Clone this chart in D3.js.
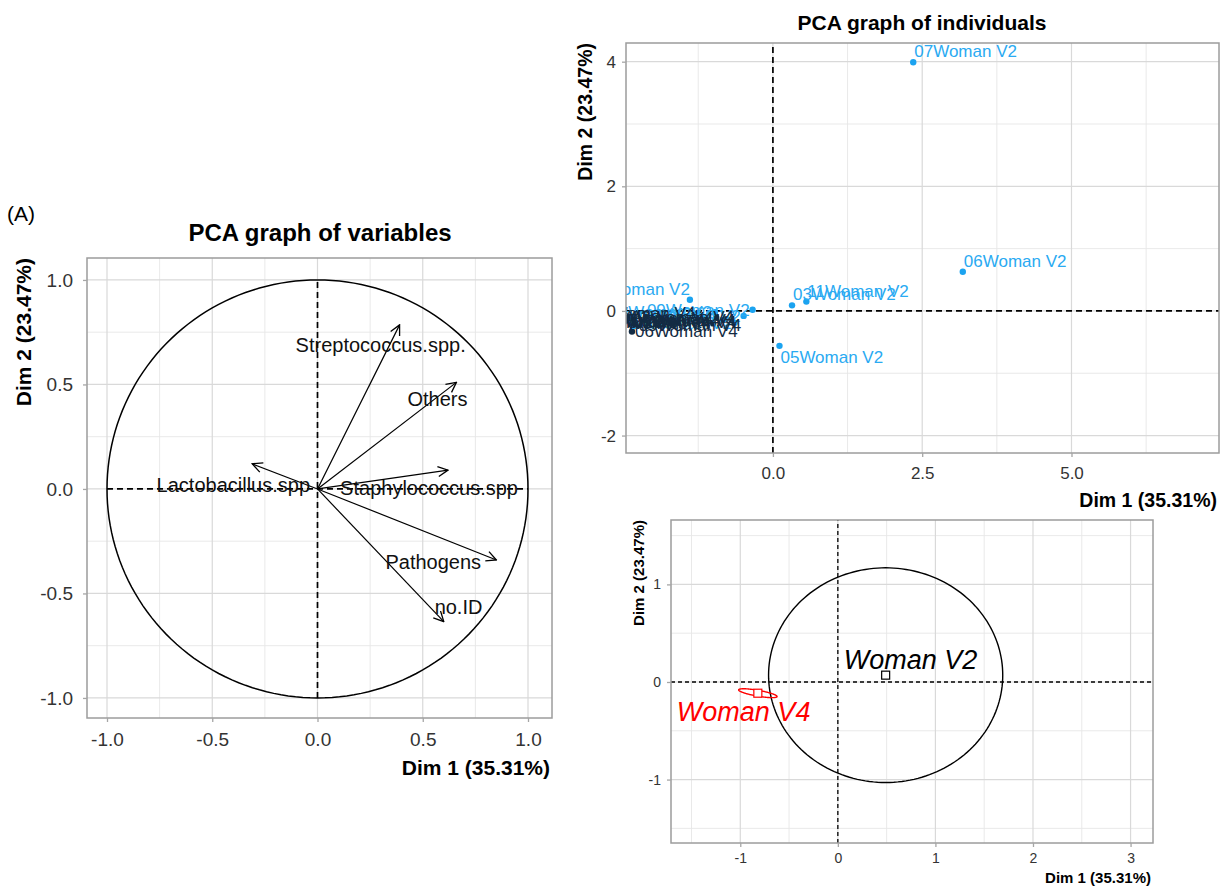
<!DOCTYPE html>
<html>
<head>
<meta charset="utf-8">
<script src="https://cdn.jsdelivr.net/npm/d3@7"></script>
<style>
	body { margin: 0; background: #fff; }
	text { font-family: "Liberation Sans", Arial, sans-serif; }
</style>
</head>
<body>
<div id="chart"></div>
<script>

//=================== DATA ====================================

// (A) PCA graph of variables: arrow tips on Dim 1 / Dim 2
var varNames = ["Streptococcus.spp.", "Others", "Staphylococcus.spp", "Lactobacillus.spp", "Pathogens", "no.ID"];
var varDim1  = [0.39, 0.66, 0.62, -0.31, 0.85, 0.60];
var varDim2  = [0.785, 0.51, 0.09, 0.12, -0.34, -0.635];
// label centres (data units, as placed in the original)
var varLabelDim1 = [0.30, 0.57, 0.53, -0.40, 0.55, 0.67];
var varLabelDim2 = [0.69, 0.43, 0.005, 0.02, -0.35, -0.565];
var varTicks = [-1.0, -0.5, 0.0, 0.5, 1.0];

// PCA graph of individuals
var indNames = ["07Woman V2", "06Woman V2", "03Woman V2", "11Woman V2", "05Woman V2", "01Woman V2",
	"02Woman V2", "04Woman V2", "08Woman V2", "09Woman V2", "10Woman V2",
	"01Woman V4", "02Woman V4", "03Woman V4", "04Woman V4", "05Woman V4", "06Woman V4",
	"07Woman V4", "08Woman V4", "09Woman V4", "10Woman V4", "11Woman V4"];
var indDim1 = [2.35, 3.18, 0.32, 0.56, 0.11, -1.39,
	-0.97, -0.64, -0.49, -0.34, -1.31,
	-2.40, -2.38, -2.42, -1.15, -0.82, -2.36,
	-1.00, -1.25, -2.30, -0.95, -1.60];
var indDim2 = [3.99, 0.63, 0.09, 0.15, -0.56, 0.18,
	-0.02, -0.19, -0.08, 0.02, -0.05,
	-0.14, -0.18, -0.10, -0.16, -0.14, -0.33,
	-0.20, -0.03, -0.22, -0.11, -0.18];
var indVisit = ["V2", "V2", "V2", "V2", "V2", "V2", "V2", "V2", "V2", "V2", "V2",
	"V4", "V4", "V4", "V4", "V4", "V4", "V4", "V4", "V4", "V4", "V4"];
// which side of the point the label went to
var indLabelSide = ["ne", "ne", "ne", "ne", "se", "nw", "w", "w", "w", "w", "w",
	"e", "e", "e", "w", "w", "e", "w", "w", "e", "w", "w"];
var indTicksX = [0, 2.5, 5];
var indTicksY = [-2, 0, 2, 4];

// group means with confidence ellipses
var grpNames = ["Woman V2", "Woman V4"];
var grpDim1 = [0.49, -0.82];
var grpDim2 = [0.07, -0.115];
var grpEllRx = [1.20, 0.20];
var grpEllRy = [1.10, 0.03];
var grpEllAngle = [0, -10];
var grpLabelDim1 = [0.06, -1.65];
var grpLabelDim2 = [0.13, -0.40];
var grpTicksX = [-1, 0, 1, 2, 3];
var grpTicksY = [-1, 0, 1];

var colV2 = "#1ba3f0", colV4 = "#132b43";

//=================== SETUP ====================================

var svg = d3.select("#chart").append("svg")
	.attr("width", 1221)
	.attr("height", 886);

var defs = svg.append("defs");
defs.append("marker")
	.attr("id", "arrowHead")
	.attr("viewBox", "0 0 12 12")
	.attr("refX", 11).attr("refY", 6)
	.attr("markerWidth", 12).attr("markerHeight", 12)
	.attr("markerUnits", "userSpaceOnUse")
	.attr("orient", "auto")
	.append("path")
	.attr("d", "M1,1 L11,6 L1,11")
	.attr("fill", "none")
	.attr("stroke", "#000")
	.attr("stroke-width", 1.3);

// d3 uses a real minus sign, the original uses a hyphen
function hyphen(f) {
	return function (d) { return f(d).replace("\u2212", "-"); };
}

var panelCount = 0;

function drawPanel(p) {
	var x = d3.scaleLinear().domain(p.xDomain).range([p.left, p.right]);
	var y = d3.scaleLinear().domain(p.yDomain).range([p.bottom, p.top]);
	var grp = svg.append("g");

	//grid, minor first
	[[p.xMinor, p.yMinor, "#e6e6e6", 0.9], [p.xTicks, p.yTicks, "#d9d9d9", 1.2]].forEach(function (s) {
		grp.selectAll(null).data(s[0]).enter().append("line")
			.attr("x1", function (d) { return x(d); }).attr("x2", function (d) { return x(d); })
			.attr("y1", p.top).attr("y2", p.bottom)
			.attr("stroke", s[2]).attr("stroke-width", s[3]);
		grp.selectAll(null).data(s[1]).enter().append("line")
			.attr("y1", function (d) { return y(d); }).attr("y2", function (d) { return y(d); })
			.attr("x1", p.left).attr("x2", p.right)
			.attr("stroke", s[2]).attr("stroke-width", s[3]);
	});

	//clipped content group
	var clipId = "clip" + (panelCount++);
	defs.append("clipPath").attr("id", clipId)
		.append("rect")
		.attr("x", p.left).attr("y", p.top)
		.attr("width", p.right - p.left).attr("height", p.bottom - p.top);
	var content = grp.append("g").attr("clip-path", "url(#" + clipId + ")");

	//border
	grp.append("rect")
		.attr("x", p.left).attr("y", p.top)
		.attr("width", p.right - p.left).attr("height", p.bottom - p.top)
		.attr("fill", "none").attr("stroke", "#9c9c9c").attr("stroke-width", 1.5);

	//axes
	var xAxis = grp.append("g")
		.attr("transform", "translate(0," + p.bottom + ")")
		.call(d3.axisBottom(x).tickValues(p.xTicks).tickFormat(hyphen(p.xFormat))
			.tickSize(4).tickPadding(p.xPad));
	var yAxis = grp.append("g")
		.attr("transform", "translate(" + p.left + ",0)")
		.call(d3.axisLeft(y).tickValues(p.yTicks).tickFormat(hyphen(p.yFormat))
			.tickSize(4).tickPadding(p.yPad));
	[xAxis, yAxis].forEach(function (a) {
		a.attr("font-family", '"Liberation Sans", Arial, sans-serif').attr("font-size", p.tickFont);
		a.select(".domain").remove();
		a.selectAll("line").attr("stroke", "#a6a6a6").attr("stroke-width", 1.3);
		a.selectAll("text").attr("fill", "#333");
	});

	//axis titles (ends of the axes)
	grp.append("text")
		.attr("transform", "translate(" + p.yTitleX + "," + p.top + ") rotate(-90)")
		.attr("text-anchor", "end")
		.attr("font-weight", "bold")
		.attr("font-size", p.titleFont)
		.text("Dim 2 (23.47%)");
	grp.append("text")
		.attr("x", p.right - 2).attr("y", p.xTitleY)
		.attr("text-anchor", "end")
		.attr("font-weight", "bold")
		.attr("font-size", p.titleFont)
		.text("Dim 1 (35.31%)");

	//dashed zero lines
	var zx = p.zeroX || [p.yDomain[0], p.yDomain[1]];
	var zy = p.zeroY || [p.xDomain[0], p.xDomain[1]];
	content.append("line")
		.attr("x1", x(zy[0])).attr("x2", x(zy[1]))
		.attr("y1", y(0)).attr("y2", y(0))
		.attr("stroke", "#000").attr("stroke-width", p.dashWidth).attr("stroke-dasharray", p.dash);
	content.append("line")
		.attr("x1", x(0)).attr("x2", x(0))
		.attr("y1", y(zx[0])).attr("y2", y(zx[1]))
		.attr("stroke", "#000").attr("stroke-width", p.dashWidth).attr("stroke-dasharray", p.dash);

	return { x: x, y: y, g: content };
}

function ellipsePath(x, y, cx, cy, rx, ry, angDeg) {
	var a = angDeg * Math.PI / 180;
	var pts = d3.range(0, 361, 2).map(function (deg) {
		var t = deg * Math.PI / 180;
		var ex = rx * Math.cos(t), ey = ry * Math.sin(t);
		return [cx + ex * Math.cos(a) - ey * Math.sin(a), cy + ex * Math.sin(a) + ey * Math.cos(a)];
	});
	return d3.line().x(function (d) { return x(d[0]); }).y(function (d) { return y(d[1]); })(pts);
}

//=================== (A) VARIABLES ====================================

svg.append("text")
	.attr("x", 7).attr("y", 221)
	.attr("font-size", 21)
	.text("(A)");

svg.append("text")
	.attr("x", 320).attr("y", 241)
	.attr("text-anchor", "middle")
	.attr("font-weight", "bold")
	.attr("font-size", 24)
	.text("PCA graph of variables");

var pv = drawPanel({
	left: 87, right: 552, top: 258, bottom: 718,
	xDomain: [-1.095, 1.114], yDomain: [-1.096, 1.105],
	xTicks: varTicks, yTicks: varTicks,
	xMinor: [-0.75, -0.25, 0.25, 0.75], yMinor: [-0.75, -0.25, 0.25, 0.75],
	xFormat: d3.format(".1f"), yFormat: d3.format(".1f"),
	xPad: 11, yPad: 10, tickFont: 19,
	yTitleX: 31, xTitleY: 775, titleFont: 21,
	zeroX: [-1, 1], zeroY: [-1, 1],
	dash: "6,4", dashWidth: 1.7
});

//unit circle
pv.g.append("path")
	.attr("d", ellipsePath(pv.x, pv.y, 0, 0, 1, 1, 0))
	.attr("fill", "none").attr("stroke", "#000").attr("stroke-width", 1.5);

//arrows
pv.g.selectAll("line.classArrow")
	.data(varNames)
	.enter().append("line")
	.classed("classArrow", true)
	.attr("x1", pv.x(0)).attr("y1", pv.y(0))
	.attr("x2", function (d, i) { return pv.x(varDim1[i]); })
	.attr("y2", function (d, i) { return pv.y(varDim2[i]); })
	.attr("stroke", "#000").attr("stroke-width", 1.2)
	.attr("marker-end", "url(#arrowHead)");

pv.g.selectAll("text.classVarLabel")
	.data(varNames)
	.enter().append("text")
	.classed("classVarLabel", true)
	.attr("x", function (d, i) { return pv.x(varLabelDim1[i]); })
	.attr("y", function (d, i) { return pv.y(varLabelDim2[i]); })
	.attr("dy", "0.36em")
	.attr("text-anchor", "middle")
	.attr("font-size", 20)
	.attr("fill", "#111")
	.text(function (d) { return d; });

//=================== INDIVIDUALS ====================================

svg.append("text")
	.attr("x", 922).attr("y", 30)
	.attr("text-anchor", "middle")
	.attr("font-weight", "bold")
	.attr("font-size", 21)
	.text("PCA graph of individuals");

var pi = drawPanel({
	left: 626, right: 1219, top: 43, bottom: 453,
	xDomain: [-2.46, 7.47], yDomain: [-2.28, 4.30],
	xTicks: indTicksX, yTicks: indTicksY,
	xMinor: [-1.25, 1.25, 3.75, 6.25], yMinor: [-1, 1, 3],
	xFormat: d3.format(".1f"), yFormat: d3.format("d"),
	xPad: 10, yPad: 6, tickFont: 17,
	yTitleX: 592, xTitleY: 507, titleFont: 19.5,
	dash: "6,4", dashWidth: 1.7
});

var indIdx = d3.range(indNames.length);

pi.g.selectAll("circle.classInd")
	.data(indIdx)
	.enter().append("circle")
	.classed("classInd", true)
	.attr("cx", function (i) { return pi.x(indDim1[i]); })
	.attr("cy", function (i) { return pi.y(indDim2[i]); })
	.attr("r", 3.2)
	.attr("fill", function (i) { return indVisit[i] == "V2" ? colV2 : colV4; });

//labels, light ones first so the V4 pile sits on top
var labelOffset = {
	ne: { dx: 1, dy: -5, anchor: "start" },
	se: { dx: 1, dy: 17, anchor: "start" },
	nw: { dx: 0, dy: -5, anchor: "end" },
	e:  { dx: 3, dy: 6, anchor: "start" },
	w:  { dx: -3, dy: 6, anchor: "end" }
};
pi.g.selectAll("text.classIndLabel")
	.data(indIdx)
	.enter().append("text")
	.classed("classIndLabel", true)
	.attr("x", function (i) { return pi.x(indDim1[i]) + labelOffset[indLabelSide[i]].dx; })
	.attr("y", function (i) { return pi.y(indDim2[i]) + labelOffset[indLabelSide[i]].dy; })
	.attr("text-anchor", function (i) { return labelOffset[indLabelSide[i]].anchor; })
	.attr("font-size", 17)
	.attr("fill", function (i) { return indVisit[i] == "V2" ? "#2aaaf2" : colV4; })
	.text(function (i) { return indNames[i]; });

//=================== GROUPS ====================================

var pg = drawPanel({
	left: 671, right: 1153, top: 520, bottom: 843,
	xDomain: [-1.71, 3.23], yDomain: [-1.65, 1.66],
	xTicks: grpTicksX, yTicks: grpTicksY,
	xMinor: [-1.5, -0.5, 0.5, 1.5, 2.5], yMinor: [-1.5, -0.5, 0.5, 1.5],
	xFormat: d3.format("d"), yFormat: d3.format("d"),
	xPad: 6, yPad: 6, tickFont: 14,
	yTitleX: 644, xTitleY: 883, titleFont: 15,
	dash: "4,3", dashWidth: 1.3
});

var grpIdx = d3.range(grpNames.length);
var grpCol = ["#000", "#ff0000"];

pg.g.selectAll("path.classEllipse")
	.data(grpIdx)
	.enter().append("path")
	.classed("classEllipse", true)
	.attr("d", function (i) {
		return ellipsePath(pg.x, pg.y, grpDim1[i], grpDim2[i], grpEllRx[i], grpEllRy[i], grpEllAngle[i]);
	})
	.attr("fill", "none")
	.attr("stroke", function (i) { return grpCol[i]; })
	.attr("stroke-width", 1.4);

pg.g.selectAll("rect.classMean")
	.data(grpIdx)
	.enter().append("rect")
	.classed("classMean", true)
	.attr("x", function (i) { return pg.x(grpDim1[i]) - 4; })
	.attr("y", function (i) { return pg.y(grpDim2[i]) - 4; })
	.attr("width", 8).attr("height", 8)
	.attr("fill", "#fff")
	.attr("stroke", function (i) { return grpCol[i]; })
	.attr("stroke-width", 1.2);

pg.g.selectAll("text.classGrpLabel")
	.data(grpIdx)
	.enter().append("text")
	.classed("classGrpLabel", true)
	.attr("x", function (i) { return pg.x(grpLabelDim1[i]); })
	.attr("y", function (i) { return pg.y(grpLabelDim2[i]); })
	.attr("font-size", 27)
	.attr("font-style", "italic")
	.attr("fill", function (i) { return grpCol[i]; })
	.text(function (i) { return grpNames[i]; });

</script>
</body>
</html>
